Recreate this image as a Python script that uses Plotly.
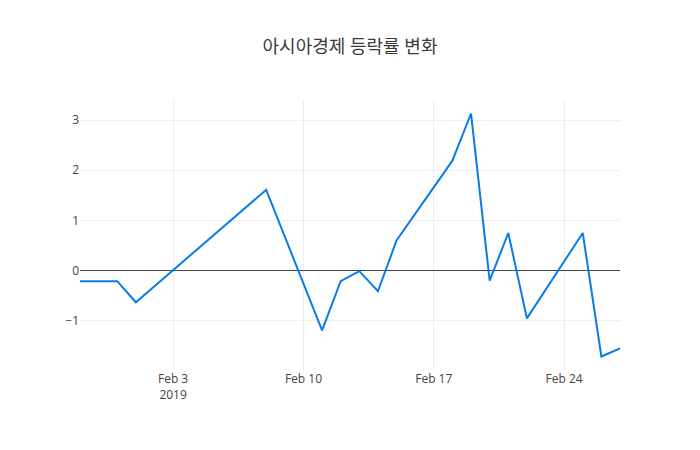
import plotly.graph_objs as go

# 날짜별 등락률 (%)
dates = ['2019-01-29', '2019-01-30', '2019-01-31', '2019-02-01', '2019-02-08',
         '2019-02-11', '2019-02-12', '2019-02-13', '2019-02-14', '2019-02-15',
         '2019-02-18', '2019-02-19', '2019-02-20', '2019-02-21', '2019-02-22',
         '2019-02-25', '2019-02-26', '2019-02-27']
rates = [-0.21, -0.21, -0.21, -0.63, 1.61,
         -1.19, -0.21, -0.01, -0.41, 0.60,
         2.19, 3.13, -0.20, 0.75, -0.95,
         0.75, -1.71, -1.55]

title = '아시아경제 등락률 변화'

trace = go.Scatter(
    x=dates,
    y=rates,
    mode='lines',
    line=dict(color='rgb(10,124,232)', width=2),
    name='등락률'
)

fig = go.Figure(data=[trace])
# page body adds an 8px offset, so margins are shifted to compensate
fig.update_layout(
    template='none',
    width=700,
    height=450,
    title=dict(text=title, xref='paper', x=0.5, xanchor='center', y=0.928,
               font=dict(size=18, color='#3a3a3a')),
    font=dict(family='"Open Sans", "Noto Sans CJK KR", sans-serif', size=12, color='#444'),
    paper_bgcolor='white',
    plot_bgcolor='white',
    margin=dict(l=72, r=88, t=92, b=88),
    showlegend=False,
)
fig.update_xaxes(showgrid=True, gridcolor='#eee', zeroline=False, showline=False,
                 ticks='', dtick=7 * 86400000, tick0='2019-02-03')
fig.update_yaxes(showgrid=True, gridcolor='#eee', zeroline=True, zerolinecolor='#444',
                 zerolinewidth=1, showline=False, ticks='')

fig.write_html("out.html")
